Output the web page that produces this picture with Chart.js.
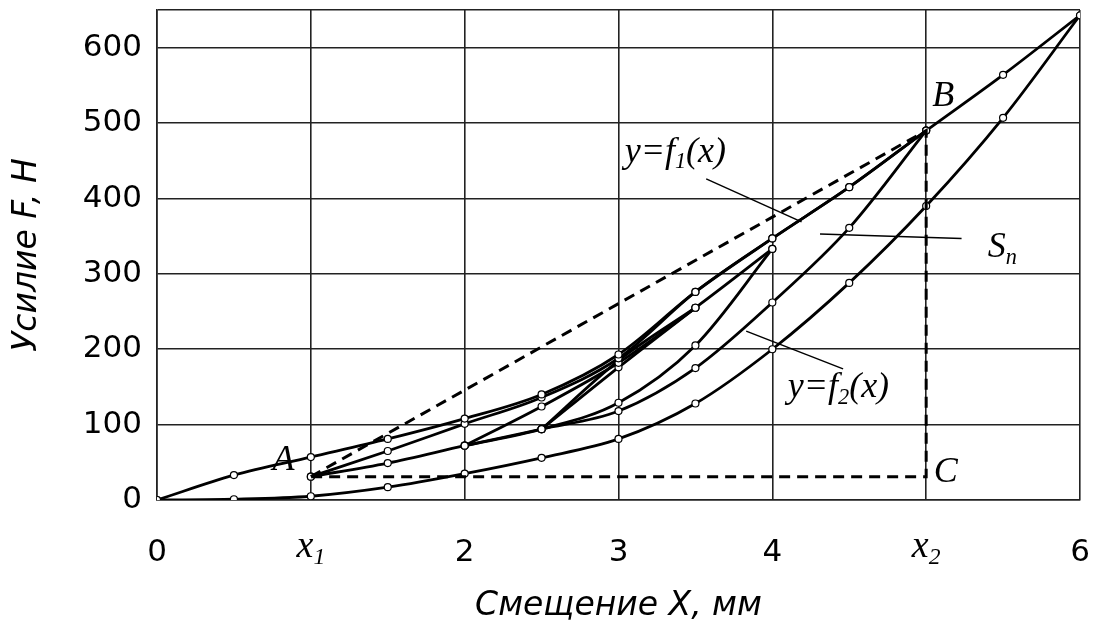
<!DOCTYPE html>
<html>
<head>
<meta charset="utf-8">
<script src="https://cdn.jsdelivr.net/npm/chart.js@4.4.1/dist/chart.umd.min.js"></script>
<style>
  html, body { margin: 0; padding: 0; background: #fff; }
  #wrap { width: 1096px; height: 635px; }
</style>
</head>
<body>
<div id="wrap"><canvas id="chart"></canvas></div>
<script>
// Hysteresis loops: force F (N) against displacement X (mm)

// outer loop 0..6 mm
var xsOuter = [0, 0.5, 1, 1.5, 2, 2.5, 3, 3.5, 4, 4.5, 5, 5.5, 6];
var outerUpper = [0, 33, 57, 81, 108, 140, 193, 276, 347, 415, 490, 564, 643];
var outerLower = [0, 1, 5, 17, 35, 56, 81, 128, 200, 288, 390, 507, 643];

// loop A..B, 1..5 mm
var xsAB = [1, 1.5, 2, 2.5, 3, 3.5, 4, 4.5, 5];
var abUpper = [31, 65, 101, 136, 188, 276, 347, 415, 490];   // y=f1(x)
var abLower = [31, 49, 72, 94, 118, 175, 262, 361, 490];     // y=f2(x)

// loop 2..4 mm
var xsMid = [2, 2.5, 3, 3.5, 4];
var midUpper = [72, 124, 182, 255, 333];
var midLower = [72, 94, 129, 205, 333];

// loop 2.5..3.5 mm
var xsSmall = [2.5, 3, 3.5];
var smallUpper = [94, 185, 255];
var smallLower = [94, 176, 255];

// dashed triangle A -> B -> C -> A
var triX = [1, 5, 5, 1];
var triY = [31, 490, 31, 31];

// axis ticks
var xTicks = [0, 1, 2, 3, 4, 5, 6];
var xTickLabels = ['0', '', '2', '3', '4', '', '6'];
var xSubTicks = [{ value: 1, text: 'x', sub: '1' }, { value: 5, text: 'x', sub: '2' }];
var yTicks = [0, 100, 200, 300, 400, 500, 600, 650];

// labels and leader lines, in data units
var notes = [
  { parts: [['A', 0]], x: 0.75, y: 40 },
  { parts: [['B', 0]], x: 5.04, y: 522 },
  { parts: [['C', 0]], x: 5.05, y: 24 },
  { parts: [['S', 0], ['n', 1]], x: 5.40, y: 322 },
  { parts: [['y=f', 0], ['1', 1], ['(x)', 0]], x: 3.04, y: 449 },
  { parts: [['y=f', 0], ['2', 1], ['(x)', 0]], x: 4.10, y: 136 }
];
var leaders = [
  [3.57, 426, 4.19, 369],
  [4.31, 353, 5.23, 347],
  [3.83, 224, 4.46, 174]
];

function zip(xs, ys) {
  return xs.map(function (x, i) { return { x: x, y: ys[i] }; });
}

function curve(xs, ys) {
  return {
    data: zip(xs, ys),
    showLine: true,
    borderColor: '#000',
    borderWidth: 2.8,
    cubicInterpolationMode: 'monotone',
    pointRadius: 3.5,
    pointBackgroundColor: '#fff',
    pointBorderColor: '#000',
    pointBorderWidth: 1.2
  };
}

function drawParts(ctx, parts, px, py, size) {
  var cx = px;
  parts.forEach(function (p) {
    var fs = p[1] ? size * 0.62 : size;
    ctx.font = 'italic ' + fs + 'px "Liberation Serif"';
    ctx.fillText(p[0], cx, p[1] ? py + size * 0.18 : py);
    cx += ctx.measureText(p[0]).width;
  });
  return cx - px;
}

var notesPlugin = {
  id: 'notes',
  afterDraw: function (chart) {
    var ctx = chart.ctx, xs = chart.scales.x, ys = chart.scales.y;
    ctx.save();
    ctx.fillStyle = '#000';
    ctx.strokeStyle = '#000';
    ctx.textBaseline = 'alphabetic';
    ctx.lineWidth = 1.5;
    leaders.forEach(function (l) {
      ctx.beginPath();
      ctx.moveTo(xs.getPixelForValue(l[0]), ys.getPixelForValue(l[1]));
      ctx.lineTo(xs.getPixelForValue(l[2]), ys.getPixelForValue(l[3]));
      ctx.stroke();
    });
    notes.forEach(function (n) {
      drawParts(ctx, n.parts, xs.getPixelForValue(n.x), ys.getPixelForValue(n.y), 36);
    });
    // x1, x2 tick labels
    xSubTicks.forEach(function (t) {
      ctx.font = 'italic 38px "Liberation Serif"';
      var w = ctx.measureText(t.text).width;
      ctx.font = 'italic ' + 38 * 0.62 + 'px "Liberation Serif"';
      w += ctx.measureText(t.sub).width;
      drawParts(ctx, [[t.text, 0], [t.sub, 1]], xs.getPixelForValue(t.value) - w / 2, xs.top + 57, 38);
    });
    ctx.restore();
  }
};

var datasets = [
  {
    data: zip(triX, triY),
    showLine: true,
    borderColor: '#000',
    borderWidth: 3,
    borderDash: [11, 7],
    pointRadius: 0,
    tension: 0
  },
  curve(xsOuter, outerUpper),
  curve(xsOuter, outerLower),
  curve(xsAB, abUpper),
  curve(xsAB, abLower),
  curve(xsMid, midUpper),
  curve(xsMid, midLower),
  curve(xsSmall, smallUpper),
  curve(xsSmall, smallLower)
];

var gridStyle = { color: '#222', lineWidth: 1.6, drawTicks: false };
var tickFont = { family: '"DejaVu Sans"', size: 31 };
var titleFont = { family: '"DejaVu Sans"', size: 33, style: 'italic' };

new Chart(document.getElementById('chart'), {
  type: 'scatter',
  data: { datasets: datasets },
  options: {
    responsive: true,
    maintainAspectRatio: false,
    animation: false,
    layout: { padding: { top: 10, right: 16, left: 0, bottom: 0 } },
    plugins: { legend: { display: false }, tooltip: { enabled: false } },
    scales: {
      x: {
        type: 'linear',
        min: 0,
        max: 6,
        afterBuildTicks: function (s) { s.ticks = xTicks.map(function (v) { return { value: v }; }); },
        afterFit: function (s) { s.height = 135; s.paddingLeft = 0; s.paddingRight = 0; },
        grid: gridStyle,
        border: { color: '#222', width: 1.6 },
        ticks: {
          color: '#000',
          font: tickFont,
          padding: 34,
          callback: function (v) { return xTickLabels[xTicks.indexOf(v)]; }
        },
        title: { display: true, text: 'Смещение X, мм', color: '#000', font: titleFont, padding: { top: 0, bottom: 9 } }
      },
      y: {
        min: 0,
        max: 650,
        afterBuildTicks: function (s) { s.ticks = yTicks.map(function (v) { return { value: v }; }); },
        afterFit: function (s) { s.width = 157; s.paddingTop = 0; s.paddingBottom = 0; },
        grid: gridStyle,
        border: { color: '#222', width: 1.6 },
        ticks: {
          color: '#000',
          font: tickFont,
          padding: 15,
          callback: function (v) { return v === 650 ? '' : v; }
        },
        title: { display: true, text: 'Усилие F, Н', color: '#000', font: titleFont, padding: { top: 8, bottom: 0 } }
      }
    }
  },
  plugins: [notesPlugin]
});
</script>
</body>
</html>
